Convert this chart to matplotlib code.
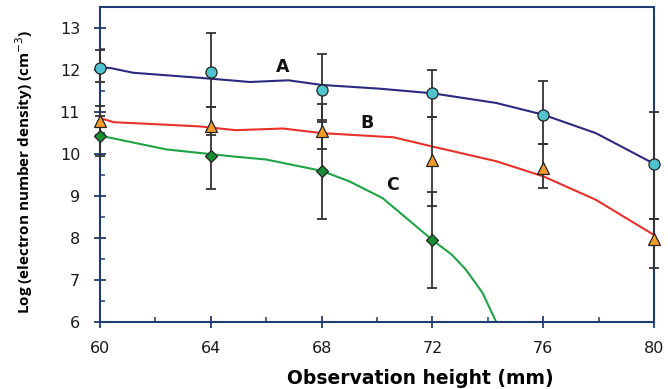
import numpy as np
import matplotlib.pyplot as plt
from matplotlib.ticker import MultipleLocator

plt.rcParams['font.family'] = ['DejaVu Sans']

# measured points with lower / upper error limits
heights = [60, 64, 68, 72, 76, 80]
a_val = [12.06, 11.95, 11.54, 11.45, 10.94, 9.76]
a_lo = [11.72, 11.12, 10.77, 10.89, 10.24, 8.45]
a_hi = [12.48, 12.88, 12.39, 12.00, 11.74, 11.01]

b_val = [10.78, 10.66, 10.56, 9.87, 9.66, 7.97]
b_lo = [10.45, 10.46, 10.11, 8.75, 9.19, 7.27]
b_hi = [11.14, 11.12, 11.20, 10.89, 10.24, 8.45]

heights_c = [60, 64, 68, 72]
c_val = [10.42, 9.96, 9.60, 7.95]
c_lo = [9.95, 9.17, 8.45, 6.80]
c_hi = [10.90, 10.57, 10.82, 9.10]

# model curves
a_x = [60, 60.4, 61.2, 62.0, 63.6, 64.7, 65.4, 66.8, 68.0, 70.1, 72.0, 74.3, 76.0, 77.9, 80.0]
a_y = [12.07, 12.05, 11.94, 11.90, 11.82, 11.76, 11.72, 11.76, 11.65, 11.56, 11.45, 11.22, 10.94, 10.50, 9.77]
b_x = [60, 60.5, 62.4, 63.6, 64.9, 66.6, 68.0, 70.6, 72.0, 74.3, 76.0, 77.9, 80.0]
b_y = [10.86, 10.76, 10.70, 10.66, 10.57, 10.61, 10.50, 10.40, 10.18, 9.83, 9.47, 8.91, 8.07]
c_x = [60, 62.4, 64.7, 66.0, 68.0, 69.0, 70.2, 72.0, 72.7, 73.2, 73.8, 74.3]
c_y = [10.44, 10.11, 9.95, 9.87, 9.60, 9.35, 8.95, 7.95, 7.60, 7.25, 6.70, 6.00]

navy = '#1f3d73'

fig = plt.figure(figsize=(6.68, 3.89), dpi=100)
ax = fig.add_axes([0.1497, 0.173, 0.8293, 0.808])

ax.plot(a_x, a_y, color='#2b2a80', lw=1.5, zorder=2)
ax.plot(b_x, b_y, color='#e8312a', lw=1.5, zorder=2)
ax.plot(c_x, c_y, color='#1ea345', lw=1.5, zorder=2)


def bars(x, v, lo, hi, marker, face, ms):
    v = np.array(v)
    err = [v - np.array(lo), np.array(hi) - v]
    ax.errorbar(x, v, yerr=err, fmt='none', ecolor='#333333', elinewidth=1.3,
                capsize=3.5, capthick=1.3, zorder=3, clip_on=False)
    ax.plot(x, v, linestyle='none', marker=marker, ms=ms, mfc=face,
            mec='#222222', mew=0.9, zorder=4, clip_on=False)


bars(heights, a_val, a_lo, a_hi, 'o', '#4fc4cf', 8)
bars(heights, b_val, b_lo, b_hi, '^', '#f29b2a', 8)
bars(heights_c, c_val, c_lo, c_hi, 'D', '#1a8c34', 6)

for lbl, lx, ly in [('A', 66.6, 12.07), ('B', 69.65, 10.75), ('C', 70.55, 9.27)]:
    ax.text(lx, ly, lbl, fontsize=12.5, fontweight='bold', ha='center', va='center',
            color='#111111')

ax.set_xlim(60, 80)
ax.set_ylim(6, 13.5)
ax.xaxis.set_major_locator(MultipleLocator(4))
ax.xaxis.set_minor_locator(MultipleLocator(2))
ax.yaxis.set_major_locator(MultipleLocator(1))
ax.yaxis.set_minor_locator(MultipleLocator(0.5))
ax.tick_params(which='major', direction='inout', length=8.5, width=1.3, color=navy,
               labelsize=11.5, labelcolor='#1a1a1a', pad=10)
ax.tick_params(which='minor', direction='in', length=3.6, width=1.1, color=navy)
for s in ax.spines.values():
    s.set_color(navy)
    s.set_linewidth(1.5)

ax.set_xlabel('Observation height (mm)', fontsize=13.5, fontweight='bold', va='center')
ax.xaxis.set_label_coords(0.578, -0.18)
ax.set_ylabel('Log (electron number density) (cm$^{-3}$)', fontsize=11,
              fontweight='bold', family=['Open Sans', 'DejaVu Sans'])
ax.yaxis.set_label_coords(-0.118, 0.476)

fig.savefig('out.png', dpi=100)
